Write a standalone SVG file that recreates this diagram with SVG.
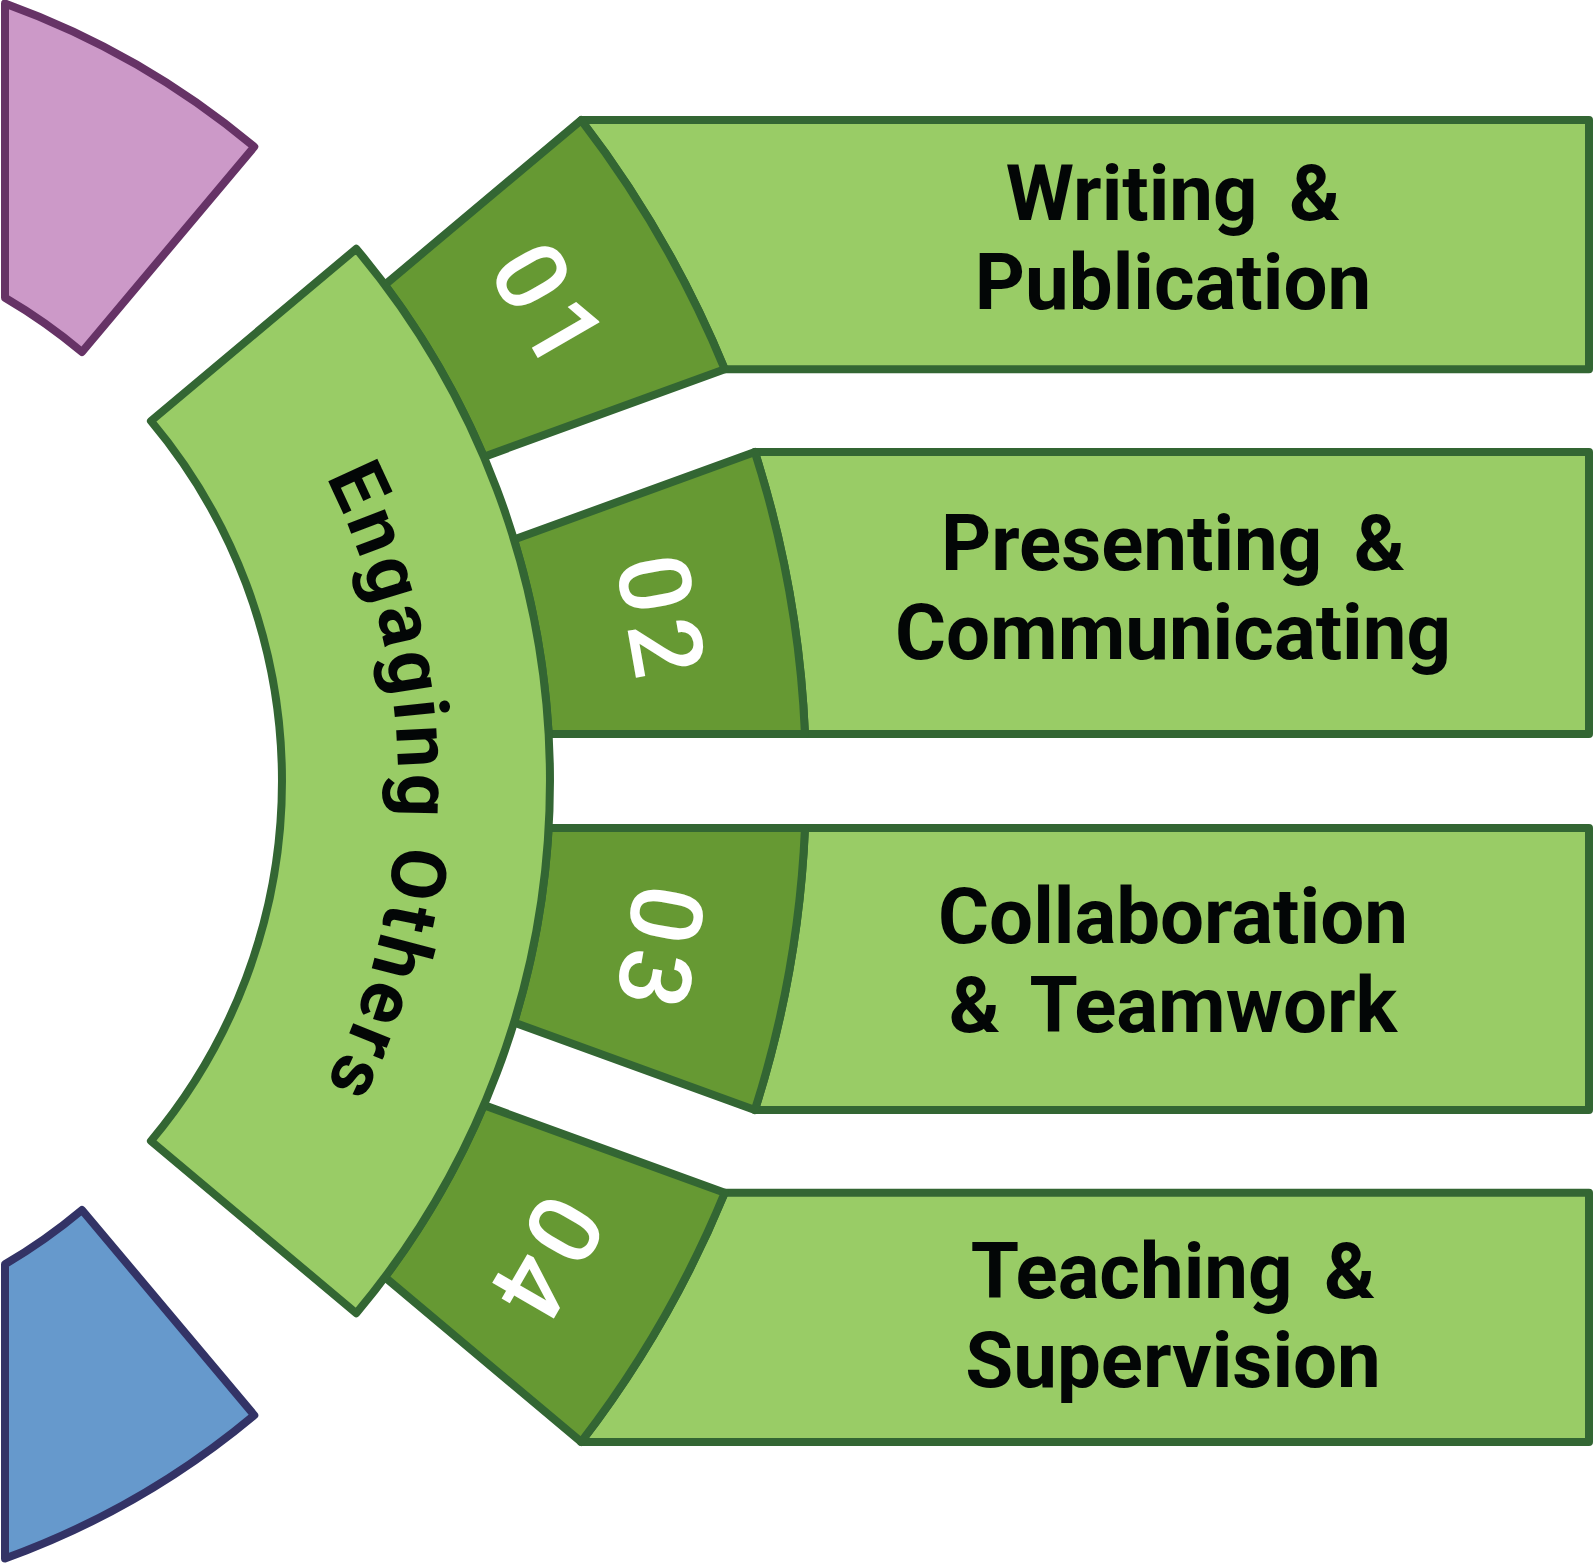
<svg xmlns="http://www.w3.org/2000/svg" width="1594" height="1564" viewBox="0 0 1594 1564">
<style>
.lg{fill:#99CC66;stroke:#336633;stroke-width:8;stroke-linejoin:round}
.dg{fill:#669933;stroke:#336633;stroke-width:8;stroke-linejoin:round}
.pu{fill:#CC99C8;stroke:#663366;stroke-width:8;stroke-linejoin:round}
.bl{fill:#6699CC;stroke:#333366;stroke-width:8;stroke-linejoin:round}
.lbl{font-family:Roboto,"Liberation Sans",sans-serif;font-weight:700;font-size:78px;fill:#030606;text-anchor:middle;font-variant-ligatures:none;word-spacing:12px}
.arc{font-family:Roboto,"Liberation Sans",sans-serif;font-weight:700;font-size:76px;fill:#030606;text-anchor:middle}
.num{font-family:Roboto,"Liberation Sans",sans-serif;font-weight:500;font-size:100px;letter-spacing:8px;fill:#FFFFFF;text-anchor:middle}
</style>
<defs>
<path id="arcText" d="M 60,195.6 A 676 676 0 0 1 60,1366.4"/>
</defs>
<rect width="1594" height="1564" fill="#FFFFFF"/>
<g id="purple"><path class="pu" d="M 5,3.5 A 828 828 0 0 1 254.24,146.75 L 81.97,352.04 A 560 560 0 0 0 5,297.8 Z"/></g>
<g id="blue"><path class="bl" d="M 5,1558.5 A 828 828 0 0 0 254.24,1415.25 L 81.97,1209.96 A 560 560 0 0 1 5,1264.2 Z"/></g>
<g id="box1"><path class="lg" d="M 581.16,120.07 H 1589 V 369.23 H 724.75 A 1084 1084 0 0 0 581.16,120.07 Z"/>
<text class="lbl" x="1173" y="220">Writing &amp;</text><text class="lbl" x="1173" y="309">Publication</text></g>
<g id="box2"><path class="lg" d="M 754.85,451.93 H 1589 V 734 H 804.98 A 1084 1084 0 0 0 754.85,451.93 Z"/>
<text class="lbl" x="1173" y="570">Presenting &amp;</text><text class="lbl" x="1173" y="659">Communicating</text></g>
<g id="box3"><path class="lg" d="M 804.98,828 H 1589 V 1110.07 H 754.85 A 1084 1084 0 0 0 804.98,828 Z"/>
<text class="lbl" x="1173" y="943">Collaboration</text><text class="lbl" x="1173" y="1032">&amp; Teamwork</text></g>
<g id="box4"><path class="lg" d="M 724.75,1192.77 H 1589 V 1441.93 H 581.16 A 1084 1084 0 0 0 724.75,1192.77 Z"/>
<text class="lbl" x="1173" y="1298">Teaching &amp;</text><text class="lbl" x="1173" y="1387">Supervision</text></g>
<g id="seg01"><path class="dg" d="M 384.84,284.82 L 581.16,120.07 A 1084 1084 0 0 1 724.75,369.23 L 483.92,456.87 A 828 828 0 0 0 384.84,284.82 Z"/>
<text class="num" transform="translate(548.2,304) rotate(60)" x="4" y="36">01</text></g>
<g id="seg02"><path class="dg" d="M 514.02,539.57 L 754.85,451.93 A 1084 1084 0 0 1 804.98,734 L 548.67,734 A 828 828 0 0 0 514.02,539.57 Z"/>
<text class="num" transform="translate(661.5,615.3) rotate(80)" x="4" y="36">02</text></g>
<g id="seg03"><path class="dg" d="M 548.67,828 L 804.98,828 A 1084 1084 0 0 1 754.85,1110.07 L 514.02,1022.43 A 828 828 0 0 0 548.67,828 Z"/>
<text class="num" transform="translate(661.5,946.7) rotate(100)" x="4" y="36">03</text></g>
<g id="seg04"><path class="dg" d="M 483.92,1105.13 L 724.75,1192.77 A 1084 1084 0 0 1 581.16,1441.93 L 384.84,1277.18 A 828 828 0 0 0 483.92,1105.13 Z"/>
<text class="num" transform="translate(548.2,1258) rotate(120)" x="4" y="36">04</text></g>
<g id="band"><path class="lg" d="M 150.96,421.03 L 356.25,248.76 A 828 828 0 0 1 356.25,1313.24 L 150.96,1140.97 A 560 560 0 0 0 150.96,421.03 Z"/>
<text class="arc"><textPath href="#arcText" startOffset="50%" textLength="630" lengthAdjust="spacing">Engaging Others</textPath></text></g>
<g id="connectors"/>
</svg>
